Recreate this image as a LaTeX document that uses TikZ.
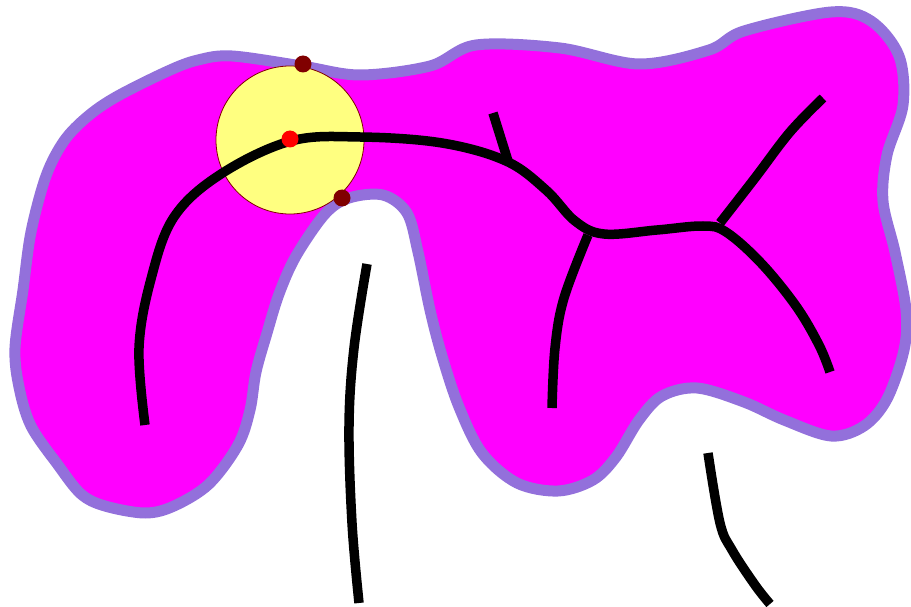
\documentclass[tikz,border=0pt]{standalone}
\usepackage{tikz}
\usetikzlibrary{calc}
\definecolor{blobfill}{RGB}{255,0,255}
\definecolor{blobedge}{RGB}{147,112,219}
\definecolor{diskfill}{RGB}{255,255,128}
\definecolor{darkdot}{RGB}{128,0,0}
\definecolor{reddot}{RGB}{255,0,0}
\tikzset{
  blob/.style={fill=blobfill, draw=blobedge, line width=11pt, line join=round},
  skel/.style={draw=black, line width=9.5pt},
  disk/.style={fill=diskfill, draw=darkdot, line width=0.8pt},
  dotdark/.style={fill=darkdot},
  dotred/.style={fill=reddot}
}

\begin{document}
\begin{tikzpicture}[x=1pt, y=-1pt]
\useasboundingbox (0,0) rectangle (911,607);

% region
\draw[blob] plot[smooth cycle, tension=0.55] coordinates {
  (232,56) (302,66) (360,75) (430,66) (476,45) (560,48) (639,64) (709,50)
  (744,31) (831,12) (871,21) (899,56) (903,105) (887,155) (883,201) (895,252)
  (906,310) (904,350) (887,399) (864,426) (831,436) (784,420) (744,402) (697,388)
  (662,396) (639,420) (616,457) (593,480) (558,491) (517,483) (482,453) (459,407)
  (442,356) (430,310) (418,252) (407,213) (383,195) (349,198) (325,214) (296,256)
  (279,294) (267,333) (256,372) (250,410) (238,445) (209,484) (174,506) (145,513)
  (105,506) (81,494) (58,465) (31,426) (19,387) (15,348) (23,290) (31,232)
  (46,176) (64,141) (87,117) (116,97) (168,71) (198,60)};

% window
\draw[disk] (290,140) circle (74);

% skeleton
\draw[skel] plot[smooth, tension=0.6] coordinates {
  (145,425) (139,348) (151,279) (174,217) (221,174) (291,141) (360,137)
  (442,143) (506,161) (546,190) (575,221) (604,234) (657,230) (703,226)
  (726,232) (761,263) (796,306) (819,345) (830,372)};
\draw[skel] (493,113) -- (508,161);
\draw[skel] plot[smooth, tension=0.6] coordinates {(720,223) (755,178) (790,132) (823,98)};
\draw[skel] plot[smooth, tension=0.6] coordinates {(588,235) (564,298) (555,348) (552,408)};
\draw[skel] plot[smooth, tension=0.6] coordinates {(367,264) (354,348) (349,426) (352,523) (359,603)};
\draw[skel] plot[smooth, tension=0.6] coordinates {(708,453) (720,523) (732,550) (755,585) (770,604)};

% markers
\fill[dotdark] (303,64) circle (8.5);
\fill[dotdark] (342,198) circle (8.5);
\fill[dotred] (290,139) circle (8.5);
\end{tikzpicture}
\end{document}
